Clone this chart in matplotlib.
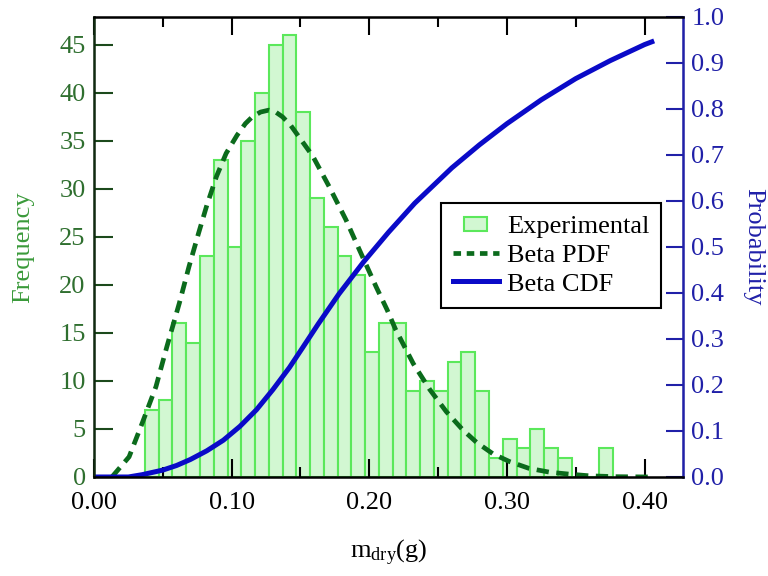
import matplotlib
matplotlib.use("Agg")
import matplotlib.pyplot as plt
from matplotlib.patches import Patch, Rectangle
from matplotlib.lines import Line2D
from matplotlib.legend_handler import HandlerPatch
from matplotlib.ticker import MultipleLocator

# histogram (bin width 0.01 g, first bin starting at 0.037 g)
bin_start = 0.037
bin_width = 0.01
counts = [7, 8, 16, 14, 23, 33, 24, 35, 40, 45, 46, 38, 29, 26, 23, 21, 13,
          16, 16, 9, 10, 9, 12, 13, 9, 2, 4, 3, 5, 3, 2, 0, 0, 3]

# fitted beta PDF (scaled to frequency)
pdf_x = [0.013, 0.0255, 0.035, 0.045, 0.053, 0.062, 0.069, 0.076, 0.082, 0.089,
         0.096, 0.104, 0.110, 0.115, 0.121, 0.127, 0.132, 0.137, 0.143, 0.149,
         0.159, 0.171, 0.183, 0.193, 0.205, 0.213, 0.219, 0.232, 0.244, 0.256,
         0.268, 0.278, 0.29, 0.302, 0.316, 0.331, 0.345, 0.36, 0.38, 0.405]
pdf_y = [0.0, 2.1, 5.6, 9.4, 13.6, 18.1, 21.9, 25.4, 28.3, 31.3,
         33.7, 35.6, 36.8, 37.5, 38.0, 38.2, 38.0, 37.5, 36.6, 35.4,
         33.4, 30.2, 26.8, 23.6, 19.8, 17.4, 15.4, 11.8, 9.1, 6.8,
         4.9, 3.6, 2.4, 1.6, 0.9, 0.5, 0.3, 0.12, 0.03, 0.0]

# fitted beta CDF
cdf_x = [0.0, 0.025, 0.035, 0.05, 0.06, 0.07, 0.082, 0.094, 0.106, 0.118,
         0.130, 0.142, 0.152, 0.163, 0.178, 0.196, 0.214, 0.233, 0.26, 0.28,
         0.30, 0.325, 0.35, 0.375, 0.40, 0.407]
cdf_y = [0.0, 0.0, 0.005, 0.015, 0.025, 0.038, 0.057, 0.08, 0.11, 0.146,
         0.19, 0.238, 0.283, 0.333, 0.398, 0.468, 0.532, 0.595, 0.672, 0.722,
         0.768, 0.82, 0.866, 0.905, 0.94, 0.948]

plt.rcParams['font.family'] = ['Liberation Serif', 'DejaVu Serif']
plt.rcParams['mathtext.fontset'] = 'custom'
plt.rcParams['mathtext.rm'] = 'Liberation Serif'
plt.rcParams['mathtext.it'] = 'Liberation Serif'
plt.rcParams['font.size'] = 19

green_face = '#d2f7d2'
green_edge = '#5be85b'
pdf_color = '#0b6b1c'
cdf_color = '#0a0ac8'
left_col = '#2f6f2f'
right_col = '#2020a8'


def small_box(legend, orig_handle, xdescent, ydescent, width, height, fontsize):
    w = width * 0.5
    h = height * 0.75
    return Rectangle((-xdescent + (width - w) / 2, -ydescent + (height - h) / 2), w, h)


fig = plt.figure(figsize=(7.68, 5.76), dpi=100)
ax1 = fig.add_axes([0.1224, 0.1719, 0.7670, 0.7986])
ax2 = ax1.twinx()

lefts = [bin_start + i * bin_width for i in range(len(counts))]
ax1.bar(lefts, counts, width=bin_width, align='edge', color=green_face,
        edgecolor=green_edge, linewidth=1.5, zorder=1)
ax1.plot(pdf_x, pdf_y, color=pdf_color, lw=3.4, dashes=(2.6, 1.6), zorder=3)
ax2.plot(cdf_x, cdf_y, color=cdf_color, lw=3.6, solid_capstyle='butt')

ax1.set_xlim(0, 0.428)
ax1.set_ylim(0, 47.9)
ax2.set_ylim(0, 1.0)

ax1.xaxis.set_major_locator(MultipleLocator(0.1))
ax1.xaxis.set_minor_locator(MultipleLocator(0.05))
ax1.xaxis.set_major_formatter(plt.FuncFormatter(lambda v, p: '%.2f' % v))
ax1.yaxis.set_major_locator(MultipleLocator(5))
ax2.yaxis.set_major_locator(MultipleLocator(0.1))
ax2.yaxis.set_major_formatter(plt.FuncFormatter(lambda v, p: '%.1f' % v))

ax1.tick_params(axis='x', which='major', direction='in', length=13, width=1.5,
                top=True, colors='black', pad=11)
ax1.tick_params(axis='x', which='minor', direction='in', length=7, width=1.5,
                top=True)
ax1.tick_params(axis='y', direction='in', length=14, width=1.5,
                color='#1c4a1c', labelcolor=left_col, pad=6)
ax2.tick_params(axis='y', direction='in', length=12, width=1.5,
                color=right_col, labelcolor=right_col, pad=6)

for sp in ['top', 'bottom']:
    ax2.spines[sp].set_linewidth(1.8)
    ax2.spines[sp].set_color('black')
ax2.spines['left'].set_color('#102a10')
ax2.spines['left'].set_linewidth(1.8)
ax2.spines['right'].set_color(right_col)
ax2.spines['right'].set_linewidth(1.8)

ax1.set_ylabel('Frequency', color='#3a9a3a', labelpad=18)
ax2.set_ylabel('Probability', color=right_col, rotation=270, labelpad=29)
ax1.set_xlabel(r'$\mathregular{m_{dry}}$(g)', labelpad=17)

handles = [Patch(facecolor=green_face, edgecolor=green_edge, linewidth=1.5),
           Line2D([], [], color=pdf_color, lw=3.4, dashes=(1.6, 1.2)),
           Line2D([], [], color=cdf_color, lw=3.6)]
labels = ['Experimental', 'Beta PDF', 'Beta CDF']
leg = ax2.legend(handles, labels, loc='upper left', bbox_to_anchor=(0.589, 0.596),
                 fancybox=False, edgecolor='black', framealpha=1,
                 borderpad=0.45, labelspacing=0.2, handlelength=1.75,
                 handletextpad=0.3, borderaxespad=0,
                 handler_map={Patch: HandlerPatch(patch_func=small_box)})
leg.get_frame().set_linewidth(1.5)

fig.savefig('out.png', dpi=100)
